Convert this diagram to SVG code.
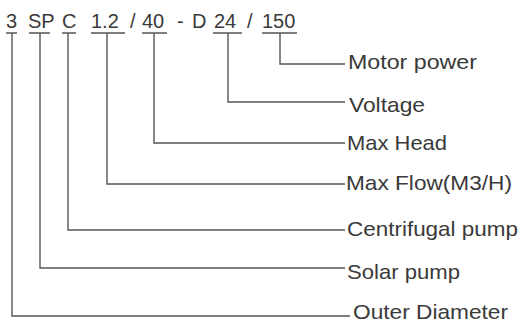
<svg xmlns="http://www.w3.org/2000/svg" width="521" height="324" viewBox="0 0 521 324">
<style>
.code{font-family:"Liberation Sans",Arial,sans-serif;font-size:20px;fill:#3a3a3a}
.lbl{font-family:"Liberation Sans",Arial,sans-serif;font-size:21px;fill:#3a3a3a}
.ln{fill:none;stroke:#555;stroke-width:1.4}
</style>
<rect width="521" height="324" fill="#fff"/>
<g id="code">
<text class="code" x="6" y="28">3</text>
<text class="code" x="28" y="28">SP</text>
<text class="code" x="62" y="28">C</text>
<text class="code" x="91" y="28">1.2</text>
<text class="code" x="130" y="28">/</text>
<text class="code" x="142" y="28">40</text>
<text class="code" x="177" y="28">-</text>
<text class="code" x="192" y="28">D</text>
<text class="code" x="214" y="28">24</text>
<text class="code" x="247" y="28">/</text>
<text class="code" x="262" y="28">150</text>
</g>
<g id="underlines">
<path class="ln" d="M6 33H17M29 33H50M62 33H76M91 33H125M142 33H167M213 33H242M262 33H297"/>
</g>
<g id="connectors">
<path class="ln" d="M12 33V316H350"/>
<path class="ln" d="M40 33V268H345"/>
<path class="ln" d="M68 33V230H345"/>
<path class="ln" d="M107 33V184H345"/>
<path class="ln" d="M154 33V143H345"/>
<path class="ln" d="M228 33V102H345"/>
<path class="ln" d="M280 33V64H345"/>
</g>
<g id="motor-power"><text class="lbl" x="348" y="69" textLength="129" lengthAdjust="spacingAndGlyphs">Motor power</text></g>
<g id="voltage"><text class="lbl" x="349" y="112" textLength="76" lengthAdjust="spacingAndGlyphs">Voltage</text></g>
<g id="max-head"><text class="lbl" x="347" y="150" textLength="100" lengthAdjust="spacingAndGlyphs">Max Head</text></g>
<g id="max-flow"><text class="lbl" x="346" y="190" textLength="166" lengthAdjust="spacingAndGlyphs">Max Flow(M3/H)</text></g>
<g id="centrifugal-pump"><text class="lbl" x="347" y="236" textLength="171" lengthAdjust="spacingAndGlyphs">Centrifugal pump</text></g>
<g id="solar-pump"><text class="lbl" x="347" y="279" textLength="113" lengthAdjust="spacingAndGlyphs">Solar pump</text></g>
<g id="outer-diameter"><text class="lbl" x="353" y="319" textLength="155" lengthAdjust="spacingAndGlyphs">Outer Diameter</text></g>
</svg>
